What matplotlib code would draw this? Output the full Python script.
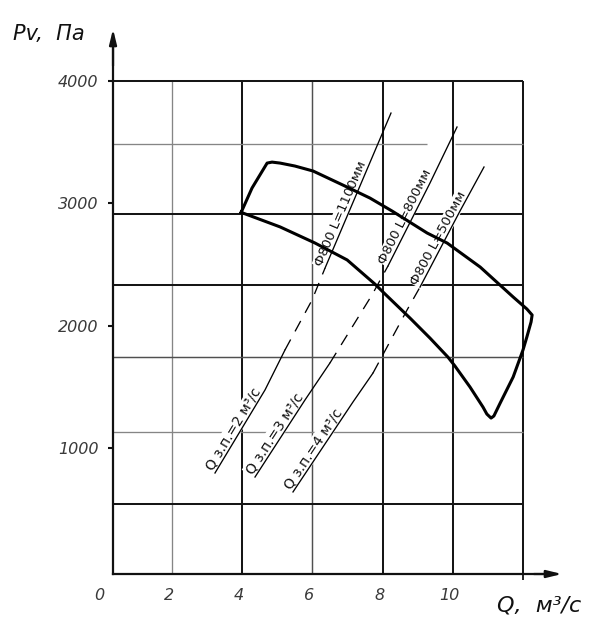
import numpy as np
import matplotlib
matplotlib.use('Agg')
import matplotlib.pyplot as plt
from matplotlib.transforms import ScaledTranslation

# ---------------- data ----------------
# fan operating region (closed outline), Q in m3/s, Pv in Pa
fan_upper_q = [3.97, 4.28, 4.71, 4.85, 5.08, 5.50, 6.02, 6.93, 7.64, 8.27, 9.27, 9.84,
               10.78, 11.72, 12.11, 12.26, 12.23, 12.11, 12.00, 11.72, 11.35, 11.17, 11.09]
fan_upper_p = [2925, 3124, 3328, 3336, 3328, 3304, 3263, 3140, 3042, 2936, 2756, 2674,
               2478, 2233, 2135, 2086, 2029, 1906, 1800, 1579, 1366, 1260, 1243]
fan_lower_q = [3.97, 5.08, 6.07, 6.99, 7.78, 8.10, 8.78, 9.35, 9.86, 10.06, 10.49, 10.86, 10.97, 11.09]
fan_lower_p = [2925, 2806, 2675, 2536, 2339, 2249, 2061, 1897, 1742, 1669, 1497, 1333, 1276, 1243]

# network characteristic lines
net1_q = [3.225, 4.650, 5.219, 5.989, 6.359, 8.239]
net1_p = [794, 1473, 1800, 2208, 2469, 3737]
net2_q = [4.365, 5.789, 6.501, 7.698, 8.154, 9.350, 10.120]
net2_p = [761, 1391, 1694, 2250, 2487, 3165, 3623]
net3_q = [5.447, 7.157, 7.726, 8.695, 9.066, 10.205, 10.889]
net3_p = [639, 1375, 1611, 2126, 2314, 2936, 3296]

net_labels_low = ['Q з.п.=2 м³/с', 'Q з.п.=3 м³/с', 'Q з.п.=4 м³/с']
net_labels_up = ['Ф800 L=1100мм', 'Ф800 L=800мм', 'Ф800 L=500мм']

x_ticks = [0, 2, 4, 6, 8, 10]
x_ticklabels = ['0', '2', '4', '6', '8', '10']
y_ticks = [1000, 2000, 3000, 4000]
y_ticklabels = ['1000', '2000', '3000', '4000']

grid_q = [2, 4, 6, 8, 10, 12]
grid_q_style = ['light', 'dark', 'medium', 'dark', 'dark', 'dark']
grid_p = [540, 1130, 1745, 2330, 2915, 3480, 4000]
grid_p_style = ['dark', 'light', 'medium', 'dark', 'dark', 'light', 'dark']

# ---------------- layout ----------------
W, H = 613, 627
fig = plt.figure(figsize=(W / 100, H / 100), dpi=100)
x0_px, q_px = 101.8, 35.1
y0_px, p_px = 570.1, 0.1223
xlim = (-0.6, 13.4)
ylim = (-32, 4460)
left = (x0_px + xlim[0] * q_px) / W
right = (x0_px + xlim[1] * q_px) / W
bottom = 1 - (y0_px - ylim[0] * p_px) / H
top = 1 - (y0_px - ylim[1] * p_px) / H
ax = fig.add_axes([left, bottom, right - left, top - bottom])
ax.set_xlim(*xlim)
ax.set_ylim(*ylim)

q_axis = 0.32
p_axis = ylim[0]
q_end = 13.11
p_end = 4424
q_grid_max = 12
p_grid_max = 4000

styles = {'dark': ('#161616', 1.45), 'medium': ('#505050', 1.05), 'light': ('#858585', 0.95)}

for q, s in zip(grid_q, grid_q_style):
    c, lw = styles[s]
    ax.plot([q, q], [p_axis, p_grid_max], color=c, lw=lw, zorder=1, solid_capstyle='butt')
for p, s in zip(grid_p, grid_p_style):
    c, lw = styles[s]
    if p == 3480:
        ax.plot([q_axis, 9.27], [p, p], color=c, lw=lw, zorder=1, solid_capstyle='butt')
        ax.plot([10.06, q_grid_max], [p, p], color=c, lw=lw, zorder=1, solid_capstyle='butt')
    else:
        ax.plot([q_axis, q_grid_max], [p, p], color=c, lw=lw, zorder=1, solid_capstyle='butt')

# axes spines
for s in ['top', 'right']:
    ax.spines[s].set_visible(False)
ax.spines['left'].set_position(('data', q_axis))
ax.spines['left'].set_bounds(p_axis, p_end - 60)
ax.spines['bottom'].set_bounds(q_axis, q_end - 0.2)
for s in ['left', 'bottom']:
    ax.spines[s].set_linewidth(1.6)
    ax.spines[s].set_color('#111111')
    ax.spines[s].set_zorder(5)

arrow = dict(arrowstyle='-|>,head_length=0.9,head_width=0.22', lw=1.6, color='#111111',
             shrinkA=0, shrinkB=0)
ax.annotate('', xy=(q_axis, p_end), xytext=(q_axis, p_end - 300), arrowprops=arrow,
            annotation_clip=False, zorder=6)
ax.annotate('', xy=(q_end, p_axis), xytext=(q_end - 0.8, p_axis), arrowprops=arrow,
            annotation_clip=False, zorder=6)

# ticks
ax.set_xticks(x_ticks)
ax.set_xticklabels(x_ticklabels, fontsize=11.5, fontstyle='italic', color='#3a3a3a')
ax.set_xticks(grid_q, minor=True)
ax.tick_params(axis='x', which='major', length=0, pad=10)
ax.tick_params(axis='x', which='minor', length=4, width=1.3, direction='out', color='#111111')
shift = ScaledTranslation(-3 / 100, 0, fig.dpi_scale_trans)
for lab in ax.get_xticklabels():
    lab.set_transform(lab.get_transform() + shift)
ax.set_yticks(y_ticks)
ax.set_yticklabels(y_ticklabels, fontsize=11.5, fontstyle='italic', color='#3a3a3a')
ax.tick_params(axis='y', which='major', length=3.5, width=1.5, pad=7, direction='out', color='#111111')

# fan outline
fan_q = fan_upper_q + fan_lower_q[::-1][1:]
fan_p = fan_upper_p + fan_lower_p[::-1][1:]
ax.plot(fan_q, fan_p, color='black', lw=2.2, solid_joinstyle='round', zorder=4)


def seg_angle(q, p, i, j):
    a = ax.transData.transform((q[i], p[i]))
    b = ax.transData.transform((q[j], p[j]))
    return np.degrees(np.arctan2(b[1] - a[1], b[0] - a[0]))


nets = [(net1_q, net1_p), (net2_q, net2_p), (net3_q, net3_p)]
for (q, p), lo, up in zip(nets, net_labels_low, net_labels_up):
    ax.plot(q[:3], p[:3], color='black', lw=0.95, zorder=3)
    ax.plot(q[2:5], p[2:5], color='black', lw=0.95, dashes=(9, 7), zorder=3)
    ax.plot(q[4:], p[4:], color='black', lw=0.95, zorder=3)
    bb = dict(facecolor='white', edgecolor='none', pad=0.8)
    ax.text(q[0], p[0], lo, rotation=seg_angle(q, p, 0, 1), rotation_mode='anchor',
            ha='left', va='bottom', fontsize=10, bbox=bb, zorder=2, color='#111111')
    ax.text(q[4], p[4], up, rotation=seg_angle(q, p, 4, len(q) - 1), rotation_mode='anchor',
            ha='left', va='bottom', fontsize=9.5, bbox=bb, zorder=2, color='#111111')

fig.text(13 / W, 1 - 40 / H, 'Pv,  Па', fontsize=15, fontstyle='italic', ha='left',
         va='baseline', color='#111111')
fig.text(497 / W, 1 - 612 / H, 'Q,  м³/с', fontsize=16, fontstyle='italic', ha='left',
         va='baseline', color='#111111')

fig.savefig('out.png', dpi=100)
